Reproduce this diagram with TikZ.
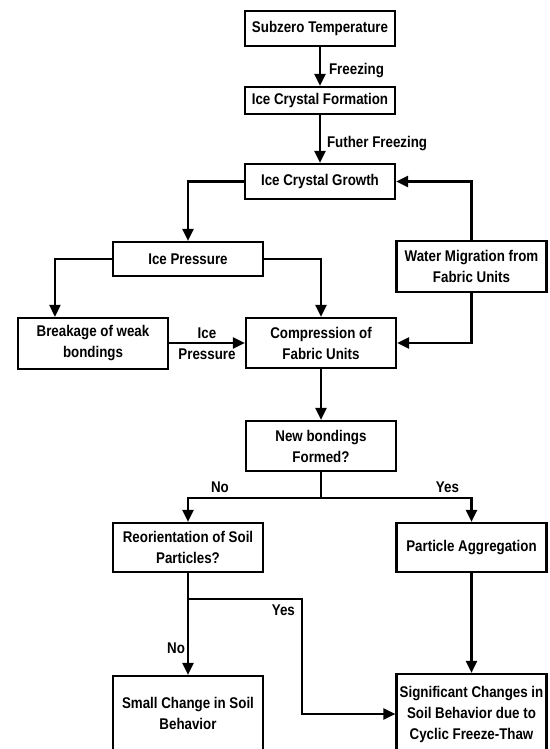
\documentclass[tikz,border=0pt]{standalone}
\usepackage{fontspec}
\setmainfont{Liberation Sans}[FakeStretch=0.86]
\usepackage{tikz}
\usetikzlibrary{arrows.meta,calc,positioning}

\begin{document}
\begin{tikzpicture}[
      x=1pt, y=-1pt,
      stage/.style={draw, line width=2.2pt, minimum width=150pt, inner sep=2pt, align=center, font=\fontsize{15.5}{21}\selectfont\bfseries},
      flow/.style={line width=2.2pt, -{Triangle[length=12pt,width=11pt]}},
      tag/.style={font=\fontsize{15.5}{18}\selectfont\bfseries, inner sep=1pt}
    ]
      \useasboundingbox (0,0) rectangle (549,749);

      \node[stage, minimum height=35pt] (sub) at (320,28.5) {Subzero Temperature};
      \node[stage, minimum height=27pt] (form) at (320,100.5) {Ice Crystal Formation};
      \node[stage, minimum height=35pt] (growth) at (320,181.5) {Ice Crystal Growth};
      \node[stage, minimum height=34pt] (press) at (188,259) {Ice Pressure};
      \node[stage, minimum height=51pt] (water) at (471.5,266.5) {Water Migration from\\Fabric Units};
      \node[stage, minimum height=51pt] (break) at (93,343.5) {Breakage of weak\\bondings};
      \node[stage, minimum height=50pt] (comp) at (321,343) {Compression of\\Fabric Units};
      \node[stage, minimum height=50pt] (newb) at (321,446) {New bondings\\Formed?};
      \node[stage, minimum height=49pt] (reor) at (188,547.5) {Reorientation of Soil\\Particles?};
      \node[stage, minimum height=49pt] (aggr) at (471.5,547.5) {Particle Aggregation};
      \node[stage, minimum height=74pt] (small) at (188,713) {Small Change in Soil\\Behavior};
      \node[stage, minimum height=80pt] (sig) at (471.5,714) {Significant Changes in\\Soil Behavior due to\\Cyclic Freeze-Thaw};

      \coordinate (split) at ($(newb.south)+(0,26)$);
      \coordinate (fork) at ($(reor.south)+(0,26)$);

      \draw[flow] (sub) -- node[tag, right=7pt, pos=0.6] {Freezing} (form);
      \draw[flow] (form) -- node[tag, right=5pt, pos=0.6] {Futher Freezing} (growth);
      \draw[flow] (growth.west) -| (press.north);
      \draw[flow] (water.north) |- (growth.east);
      \draw[flow] (press.west) -| ($(break.north west)!0.25!(break.north east)$);
      \draw[flow] (press.east) -| (comp.north);
      \draw[flow] (break.east |- comp.west) -- node[tag, above=2pt] {Ice} node[tag, below=4pt] {Pressure} (comp.west);
      \draw[flow] (water.south) |- (comp.east);
      \draw[flow] (comp) -- (newb);
      \draw[line width=2.2pt] (newb.south) -- (split);
      \draw[flow] (split) -| node[tag, above=3pt, pos=0.38] {No} (reor.north);
      \draw[flow] (split) -| node[tag, above=3pt, pos=0.42] {Yes} (aggr.north);
      \draw[flow] (reor.south) -- node[tag, left=1pt, pos=0.74] {No} (small.north);
      \draw[flow] (fork) -- ++(114,0) node[tag, below left=4pt and 5pt] {Yes} |- (sig.west);
      \draw[flow] (aggr.south) -- (sig.north);
    \end{tikzpicture}
\end{document}
